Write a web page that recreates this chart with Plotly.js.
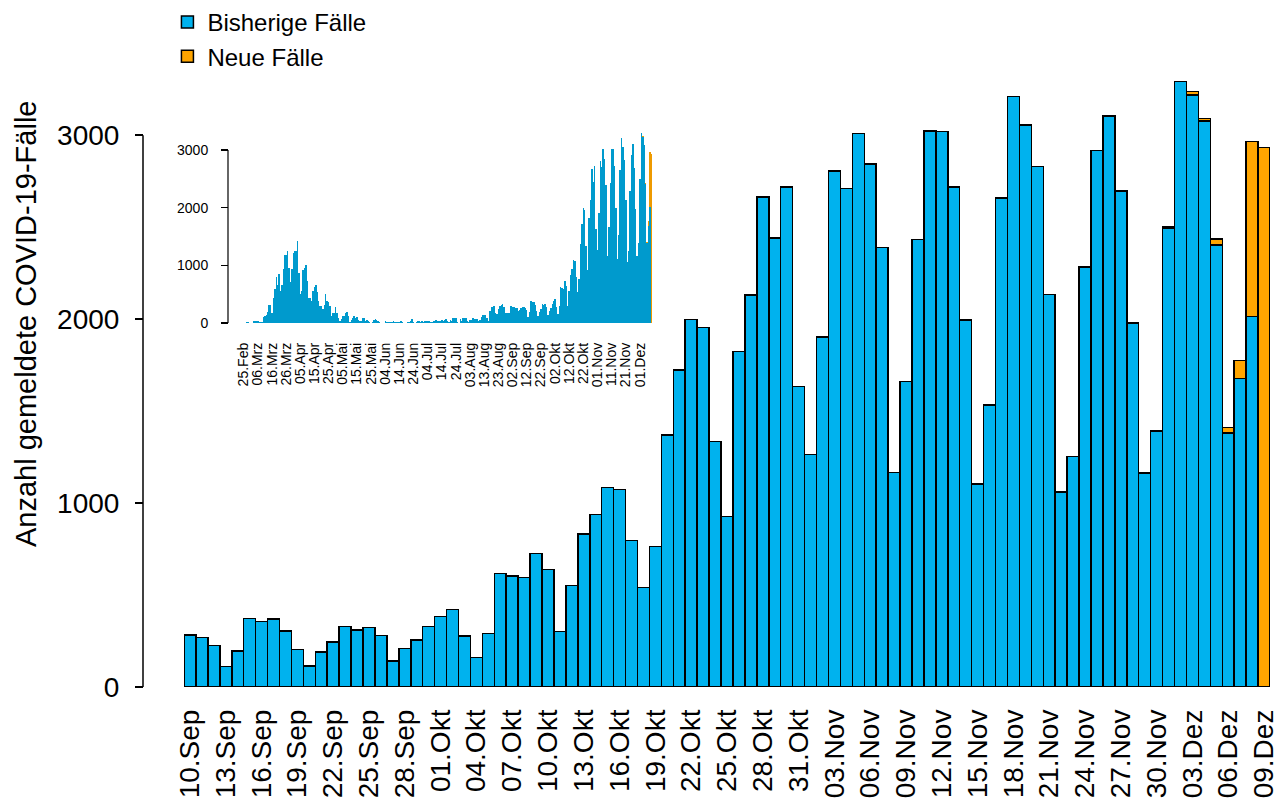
<!DOCTYPE html>
<html>
<head>
<meta charset="utf-8">
<script src="https://cdn.plot.ly/plotly-3.0.1.min.js"></script>
<style>html,body{margin:0;padding:0;background:#fff;}#chart{width:1282px;height:801px;}</style>
</head>
<body>
<div id="chart"></div>
<script>
// Main chart: daily values from 10.Sep to 09.Dez
const mainOld = [
  283, 268, 225, 111, 196, 373, 356, 371, 304, 203,
  113, 189, 245, 328, 309, 324, 281, 141, 210, 255,
  328, 384, 421, 277, 160, 291, 616, 603, 595, 726,
  638, 303, 553, 832, 937, 1085, 1075, 796, 540, 763,
  1371, 1724, 1997, 1954, 1335, 927, 1823, 2130, 2663, 2442,
  2719, 1634, 1264, 1904, 2805, 2710, 3009, 2843, 2389, 1165,
  1661, 2434, 3023, 3019, 2718, 1995, 1104, 1534, 2659, 3209,
  3056, 2829, 2133, 1060, 1253, 2283, 2916, 3104, 2696, 1980,
  1163, 1389, 2496, 3292, 3218, 3078, 2403, 1382, 1678, 2013, 0
];
const mainNew = [
  0, 0, 0, 0, 0, 0, 0, 0, 0, 0,
  0, 0, 0, 0, 0, 0, 0, 0, 0, 0,
  0, 0, 0, 0, 0, 0, 0, 0, 0, 0,
  0, 0, 0, 0, 0, 0, 0, 0, 0, 0,
  0, 0, 0, 0, 0, 0, 0, 0, 0, 0,
  0, 0, 0, 0, 0, 0, 0, 0, 0, 0,
  0, 0, 0, 0, 0, 0, 0, 0, 0, 0,
  0, 0, 0, 0, 0, 0, 0, 0, 0, 0,
  0, 6, 6, 0, 19, 13, 33, 28, 96, 954, 2932
];
// Inset: daily values from 25.Feb to 09.Sep (afterwards the main series continues)
const earlyCases = [
  2, 4, 10, 12, 8, 3, 0, 30, 35, 40,
  40, 20, 25, 20, 100, 120, 140, 185, 312, 312,
  168, 433, 595, 792, 659, 855, 555, 659, 942, 1179,
  1179, 1243, 954, 705, 942, 1220, 1243, 1250, 1422, 873,
  509, 555, 919, 948, 1012, 734, 428, 428, 381, 549,
  630, 659, 543, 381, 295, 295, 250, 312, 503, 387,
  370, 295, 121, 168, 179, 272, 180, 90, 40, 64,
  121, 121, 168, 191, 121, 10, 52, 81, 121, 81,
  104, 52, 40, 40, 87, 87, 40, 52, 35, 17,
  5, 12, 46, 64, 46, 35, 17, 5, 5, 5,
  35, 23, 12, 12, 12, 23, 35, 12, 23, 12,
  12, 35, 12, 6, 6, 0, 12, 23, 35, 69,
  23, 0, 12, 35, 35, 12, 35, 12, 35, 35,
  35, 35, 23, 23, 35, 35, 52, 35, 35, 35,
  46, 35, 52, 64, 35, 23, 52, 35, 81, 92,
  92, 23, 0, 69, 40, 87, 87, 87, 40, 12,
  52, 52, 92, 75, 69, 69, 40, 58, 104, 139,
  139, 139, 92, 40, 208, 277, 277, 295, 179, 150,
  237, 295, 306, 329, 283, 179, 179, 179, 179, 295,
  283, 277, 266, 260, 214, 231, 266, 277
];
const mainTickLabels = ['10.Sep','13.Sep','16.Sep','19.Sep','22.Sep','25.Sep','28.Sep','01.Okt','04.Okt','07.Okt','10.Okt','13.Okt','16.Okt','19.Okt','22.Okt','25.Okt','28.Okt','31.Okt','03.Nov','06.Nov','09.Nov','12.Nov','15.Nov','18.Nov','21.Nov','24.Nov','27.Nov','30.Nov','03.Dez','06.Dez','09.Dez'];
const insetTickLabels = ['25.Feb','06.Mrz','16.Mrz','26.Mrz','05.Apr','15.Apr','25.Apr','05.Mai','15.Mai','25.Mai','04.Jun','14.Jun','24.Jun','04.Jul','14.Jul','24.Jul','03.Aug','13.Aug','23.Aug','02.Sep','12.Sep','22.Sep','02.Okt','12.Okt','22.Okt','01.Nov','11.Nov','21.Nov','01.Dez'];
const yTicks = [0, 1000, 2000, 3000];
const seriesNames = ['Bisherige Fälle', 'Neue Fälle'];

const MON = ['Jan','Feb','Mrz','Apr','Mai','Jun','Jul','Aug','Sep','Okt','Nov','Dez'];
function dayLabels(y, m, d, n) {
  const out = [];
  for (let i = 0; i < n; i++) {
    const dt = new Date(Date.UTC(y, m, d + i));
    out.push(String(dt.getUTCDate()).padStart(2, '0') + '.' + MON[dt.getUTCMonth()]);
  }
  return out;
}
const mainDates = dayLabels(2020, 8, 10, mainOld.length);
const allDates = dayLabels(2020, 1, 25, earlyCases.length).concat(mainDates);
const insetOld = earlyCases.concat(mainOld);

const BLUE = '#00B2EE', ORANGE = '#FFA500';
const BLUE2 = '#009ACD', ORANGE2 = '#EE9A00';
const FONT = 'Liberation Sans, Arial, sans-serif';

const traces = [
  {type:'bar', name:seriesNames[0], x:mainDates, y:mainOld, xaxis:'x', yaxis:'y',
   marker:{color:BLUE, line:{color:'black', width:1.5}}, hoverinfo:'x+y'},
  {type:'bar', name:seriesNames[1], x:mainDates, y:mainNew, xaxis:'x', yaxis:'y',
   marker:{color:ORANGE, line:{color:'black', width:1.5}}, hoverinfo:'x+y'},
  {type:'bar', name:seriesNames[0], x:allDates, y:insetOld, xaxis:'x2', yaxis:'y2',
   marker:{color:BLUE2, line:{width:0}}, showlegend:false},
  {type:'bar', name:seriesNames[1], x:mainDates, y:mainNew, xaxis:'x2', yaxis:'y2',
   marker:{color:ORANGE2, line:{width:0}}, showlegend:false}
];

const layout = {
  width:1282, height:801,
  margin:{l:143, r:12, t:80, b:114, pad:0, autoexpand:false},
  paper_bgcolor:'white', plot_bgcolor:'white',
  barmode:'stack', bargap:0,
  font:{family:FONT, color:'black'},
  showlegend:true,
  legend:{xref:'container', yref:'container', x:0.1306, y:1.004, xanchor:'left', yanchor:'top', traceorder:'normal',
          font:{size:24, family:FONT}, bgcolor:'rgba(0,0,0,0)'},
  xaxis:{domain:[0.0364, 1], anchor:'y', type:'category', range:[-0.5, 90.5],
         categoryorder:'array', categoryarray:mainDates,
         tickmode:'array', tickvals:mainTickLabels, ticktext:mainTickLabels, tickangle:-90,
         ticks:'', showline:false, showgrid:false, zeroline:false,
         tickfont:{size:28}, ticklabelstandoff:16, automargin:false},
  yaxis:{domain:[0, 1], range:[0, 3300], anchor:'free', position:0,
         tickmode:'array', tickvals:yTicks, ticks:'outside', ticklen:8, tickwidth:1.5, tickcolor:'black',
         showline:false, showgrid:false, zeroline:false,
         tickfont:{size:28}, ticklabelstandoff:10, automargin:false},
  xaxis2:{domain:[0.08873, 0.45164], anchor:'y2', type:'category', range:[-0.5, 288.5],
          categoryorder:'array', categoryarray:allDates,
          tickmode:'array', tickvals:insetTickLabels, ticktext:insetTickLabels, tickangle:-90,
          ticks:'', showline:false, showgrid:false, zeroline:false,
          tickfont:{size:14}, ticklabelstandoff:16, automargin:false},
  yaxis2:{domain:[0.59967, 0.91763], range:[0, 3346.8], anchor:'free', position:0.07542,
          tickmode:'array', tickvals:yTicks, ticks:'outside', ticklen:7, tickwidth:1.2, tickcolor:'black',
          showline:false, showgrid:false, zeroline:false,
          tickfont:{size:14}, ticklabelstandoff:10, automargin:false},
  shapes:[
    {type:'line', xref:'paper', yref:'y', x0:0, x1:0, y0:yTicks[0], y1:yTicks[3], line:{color:'black', width:1.5}},
    {type:'line', xref:'paper', yref:'y2', x0:0.07542, x1:0.07542, y0:yTicks[0], y1:yTicks[3], line:{color:'black', width:1.2}}
  ],
  annotations:[
    {text:'Anzahl gemeldete COVID-19-Fälle', textangle:-90, xref:'paper', yref:'paper',
     x:-0.1038, y:0.598, xanchor:'center', yanchor:'middle', showarrow:false, font:{size:29}}
  ]
};

Plotly.newPlot('chart', traces, layout, {displayModeBar:false, staticPlot:true});
</script>
</body>
</html>
